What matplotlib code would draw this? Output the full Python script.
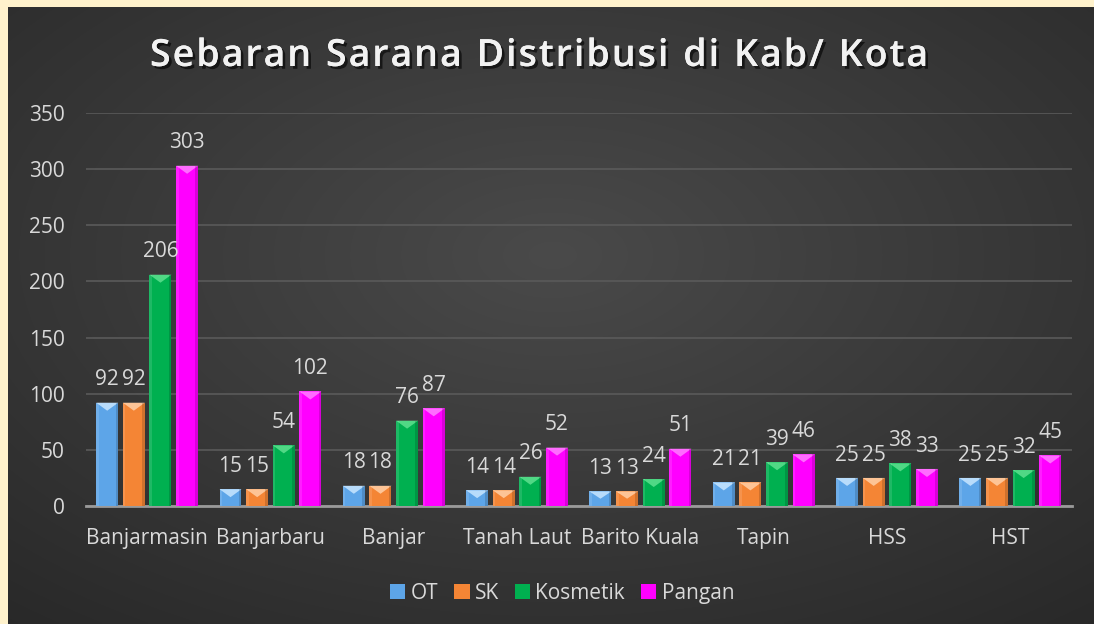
import numpy as np
import matplotlib
matplotlib.use("Agg")
import matplotlib.pyplot as plt
import matplotlib.patheffects as pe
from matplotlib.patches import Polygon, Rectangle

categories = ["Banjarmasin", "Banjarbaru", "Banjar", "Tanah Laut", "Barito Kuala",
              "Tapin", "HSS", "HST"]
ot = [92, 15, 18, 14, 13, 21, 25, 25]
sk = [92, 15, 18, 14, 13, 21, 25, 25]
kosmetik = [206, 54, 76, 26, 24, 39, 38, 32]
pangan = [303, 102, 87, 52, 51, 46, 33, 45]
series_names = ["OT", "SK", "Kosmetik", "Pangan"]
yticks = [0, 50, 100, 150, 200, 250, 300, 350]
title = "Sebaran Sarana Distribusi di Kab/ Kota"

colors = ["#5DA5E8", "#F48535", "#00B050", "#FF00FF"]
tops = ["#C9E6FF", "#FFD0A8", "#5FE08F", "#FF80FF"]
FONT = "Open Sans"
FS = 15
TXT = "#D9D9D9"

W, H = 1094, 624
fig = plt.figure(figsize=(W / 100, H / 100), dpi=100)
fig.patch.set_facecolor("#FFF2CC")

# dark gradient background
bg = fig.add_axes([8 / W, 0, (W - 8) / W, (H - 7) / H])
yy, xx = np.mgrid[0:200, 0:300]
cx, cy = 150, 80
r = np.sqrt(((xx - cx) / 300) ** 2 + ((yy - cy) / 200) ** 2)
r = r / r.max()
val = 0.29 - 0.13 * r
img = np.dstack([val, val, val])
bg.imshow(img, aspect="auto", extent=[0, 1, 0, 1], interpolation="bilinear")
bg.set_axis_off()

ax = fig.add_axes([85.5 / W, (H - 506) / H, (1072 - 85.5) / W, (506 - 113) / H])
ax.set_facecolor("none")
ax.set_zorder(2)

x = np.arange(len(categories))
step = 0.216
bw = 0.178
all_series = [ot, sk, kosmetik, pangan]
px_per_unit = (506 - 113) / 350.0
bev = 8 / px_per_unit
for i, (vals, c, tc) in enumerate(zip(all_series, colors, tops)):
    offs = (i - 1.5) * step
    bars = ax.bar(x + offs, vals, bw, color=c, label=series_names[i], zorder=3)
    for b, v in zip(bars, vals):
        x0 = b.get_x(); w = b.get_width(); h = b.get_height()
        bh = min(bev, h * 0.5)
        tri = Polygon([[x0, h], [x0 + w, h], [x0 + w / 2, h - bh]], closed=True,
                      facecolor=tc, edgecolor="none", alpha=0.85, zorder=4)
        ax.add_patch(tri)
        side = Rectangle((x0, 0), w * 0.12, h, facecolor="white", alpha=0.12,
                         edgecolor="none", zorder=4)
        ax.add_patch(side)
        side2 = Rectangle((x0 + w * 0.88, 0), w * 0.12, h, facecolor="black", alpha=0.15,
                          edgecolor="none", zorder=4)
        ax.add_patch(side2)
        ax.text(x0 + w / 2, h + 11, str(v), ha="center", va="bottom",
                color=TXT, fontsize=FS, family=FONT, zorder=5)

ax.set_xlim(-0.5, len(categories) - 0.5)
ax.set_ylim(0, 350)
ax.set_yticks(yticks)
ax.set_yticklabels([str(t) for t in yticks], color=TXT, fontsize=FS, family=FONT)
ax.set_xticks(x)
ax.set_xticklabels(categories, color=TXT, fontsize=FS, family=FONT)
ax.tick_params(axis="both", length=0)
ax.tick_params(axis="y", pad=15)
ax.tick_params(axis="x", pad=16)
ax.grid(axis="y", color="#5A5A5A", linewidth=1.2, zorder=0)
for s in ["top", "right", "left"]:
    ax.spines[s].set_visible(False)
ax.spines["bottom"].set_color("#9A9A9A")
ax.spines["bottom"].set_linewidth(2)

leg = ax.legend(loc="upper center", bbox_to_anchor=(0.483, -0.147), ncol=4, frameon=False,
                handlelength=0.75, handleheight=0.75, columnspacing=0.75, handletextpad=0.25,
                prop={"family": FONT, "size": FS})
for t in leg.get_texts():
    t.set_color(TXT)

# letter-spaced title
renderer = fig.canvas.get_renderer()
tkw = dict(color="#F2F2F2", fontsize=27, fontweight="semibold", family=FONT,
           va="center", ha="left",
           path_effects=[pe.withSimplePatchShadow(offset=(2, -2), shadow_rgbFace="black", alpha=0.6),
                         pe.Normal()])
widths = []
for ch in title:
    t = fig.text(0, 0, ch if ch != " " else "n", **tkw)
    bb = t.get_window_extent(renderer)
    w = bb.width if ch != " " else bb.width * 0.45
    widths.append(w)
    t.remove()
target = 778.0
spacing = (target - sum(widths)) / (len(title) - 1)
xpos = 150.0
ty = (H - 56) / H
for ch, w in zip(title, widths):
    if ch != " ":
        fig.text(xpos / W, ty, ch, **tkw)
    xpos += w + spacing

fig.savefig("out.png", dpi=100, facecolor=fig.get_facecolor())
